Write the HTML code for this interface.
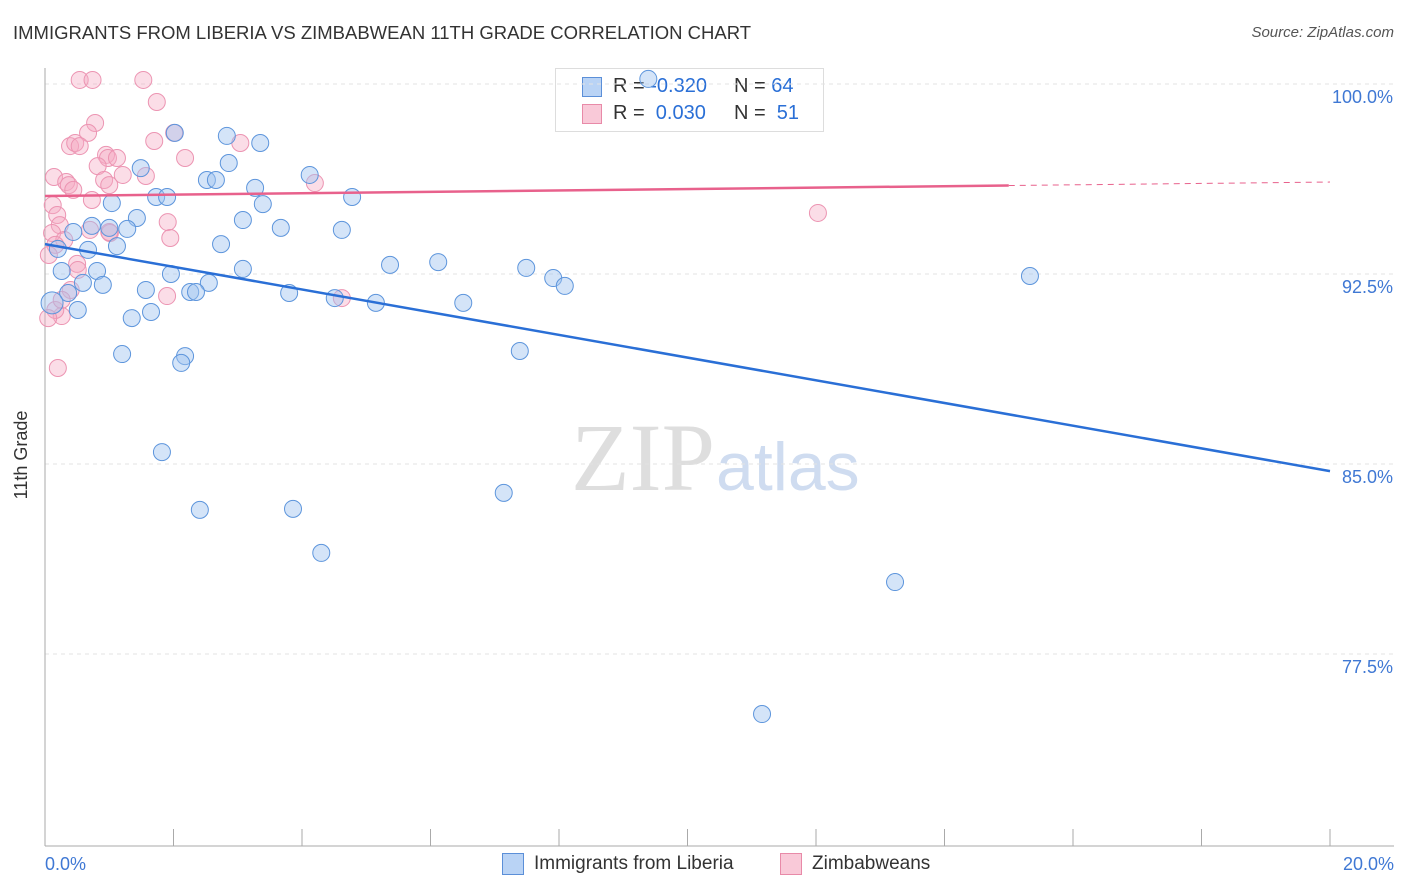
<!DOCTYPE html>
<html><head><meta charset="utf-8">
<style>
body{margin:0;background:#fff;font-family:"Liberation Sans",sans-serif;}
#wrap{position:relative;width:1406px;height:892px;overflow:hidden;}
.t{position:absolute;white-space:nowrap;}
</style></head>
<body>
<div id="wrap">
<div class="t" style="left:13px;top:22px;font-size:18.5px;color:#333;">IMMIGRANTS FROM LIBERIA VS ZIMBABWEAN 11TH GRADE CORRELATION CHART</div>
<div class="t" style="right:12px;top:24px;font-size:15px;color:#555;font-style:italic;">Source: ZipAtlas.com</div>
<div style="position:absolute;z-index:0;left:555px;top:68px;width:267px;height:62px;border:1px solid #ddd;background:#fff;font-size:20px;">
<div style="position:absolute;left:26px;top:8px;width:18px;height:18px;background:#b9d3f5;border:1px solid #5b8fd8;"></div>
<div class="t" style="left:57px;top:6px;color:#333">R = <span style="color:#2a6fd6">-0.320</span></div>
<div class="t" style="left:178px;top:6px;color:#333">N = <span style="color:#2a6fd6">64</span></div>
<div style="position:absolute;left:26px;top:35px;width:18px;height:18px;background:#f9c9d8;border:1px solid #e88aa8;"></div>
<div class="t" style="left:57px;top:33px;color:#333">R = &nbsp;<span style="color:#2a6fd6">0.030</span></div>
<div class="t" style="left:178px;top:33px;color:#333">N = &nbsp;<span style="color:#2a6fd6">51</span></div>
</div>
<svg id="svg" width="1406" height="892" style="position:absolute;left:0;top:0;z-index:1">
<text x="715" y="490" font-size="96" font-family="Liberation Serif,serif" fill="#dedede" text-anchor="end">ZIP</text>
<text x="716" y="490" font-size="68" fill="#cfdcf0">atlas</text>
<g id="grid"></g><g id="pts"></g><g id="lines"></g>
<text x="27" y="455" font-size="18" fill="#333" transform="rotate(-90 27 455)" text-anchor="middle">11th Grade</text>
</svg>
<div>
<div style="position:absolute;left:502px;top:853px;width:20px;height:20px;background:#b9d3f5;border:1px solid #5b8fd8;"></div>
<div class="t" style="left:534px;top:853px;font-size:19px;color:#333">Immigrants from Liberia</div>
<div style="position:absolute;left:780px;top:853px;width:20px;height:20px;background:#f9c9d8;border:1px solid #e88aa8;"></div>
<div class="t" style="left:812px;top:853px;font-size:19px;color:#333">Zimbabweans</div>
</div>
</div>
<script>
const yTicks=[100,92.5,85,77.5];
const yTickLabels=["100.0%","92.5%","85.0%","77.5%"];
const xTickLabels=["0.0%","20.0%"];
const blueX=[9.39,2.02,2.83,3.35,1.49,2.86,2.52,2.66,4.12,3.27,1.73,1.90,4.78,1.04,3.39,1.43,3.08,0.73,1.00,1.28,3.67,4.62,0.44,2.74,1.12,0.67,0.2,5.37,6.12,7.49,0.26,0.81,3.08,1.96,7.91,15.33,0.59,0.9,2.55,1.57,0.36,2.26,2.35,3.8,8.09,4.51,5.15,6.51,0.11,0.51,1.65,1.35,1.2,2.18,2.12,7.39,1.82,7.14,2.41,3.86,4.3,13.23,11.16];
const blueY=[100.2,98.07,97.95,97.67,96.68,96.88,96.21,96.21,96.41,95.9,95.54,95.54,95.54,95.3,95.26,94.71,94.63,94.4,94.32,94.28,94.32,94.24,94.16,93.68,93.6,93.45,93.49,92.86,92.97,92.74,92.62,92.62,92.7,92.5,92.34,92.42,92.15,92.07,92.15,91.87,91.75,91.79,91.79,91.75,92.03,91.55,91.36,91.36,91.36,91.08,91.0,90.76,89.34,89.26,88.99,89.46,85.47,83.86,83.19,83.23,81.49,80.34,75.13];
const pinkX=[0.54,0.74,1.53,1.74,0.78,0.67,2.01,1.7,3.04,0.39,0.47,0.54,0.95,0.98,1.12,2.18,0.82,1.57,0.14,0.33,0.37,0.44,0.92,1.0,1.21,4.2,0.73,0.12,0.19,0.23,0.11,1.01,1.91,1.95,0.3,12.03,0.16,0.06,0.5,0.51,0.4,1.9,4.62,0.26,0.16,0.05,0.2,0.7,1.0,0.26];
const pinkY=[100.16,100.16,100.16,99.29,98.46,98.07,98.07,97.75,97.67,97.55,97.67,97.55,97.2,97.08,97.08,97.08,96.76,96.37,96.33,96.13,96.01,95.82,96.21,96.01,96.41,96.09,95.42,95.22,94.83,94.43,94.12,94.12,94.55,93.92,93.84,94.91,93.65,93.25,92.9,92.66,91.87,91.63,91.55,90.84,91.08,90.76,88.79,94.24,94.16,91.48];
const blueTrend=[93.68,84.72];
const pinkTrend=[95.58,96.13];
const NS="http://www.w3.org/2000/svg";
const X=v=>45+v/20*1285, Y=v=>84+(100-v)/7.5*190;
function mk(p,tag,a){const e=document.createElementNS(NS,tag);for(const k in a)e.setAttribute(k,a[k]);p.appendChild(e);return e;}
const grid=document.getElementById('grid'),pts=document.getElementById('pts'),lines=document.getElementById('lines'),svg=document.getElementById('svg');
yTicks.forEach((t,i)=>{
 const l=mk(grid,'line',{x1:45,x2:1394,y1:Y(t),y2:Y(t),stroke:'#e3e3e3','stroke-dasharray':'4,4'});
 
 
 const tx=mk(svg,'text',{x:1393,y:Y(t)+19,'font-size':18,fill:'#3f78d4','text-anchor':'end'});
 tx.textContent=yTickLabels[i];
 
 
});
const ax=mk(grid,'line',{x1:45,x2:45,y1:68,y2:846,stroke:'#aaa'});


const bx=mk(grid,'line',{x1:45,x2:1394,y1:846,y2:846,stroke:'#aaa'});


for(let i=0;i<=10;i++){const t=mk(grid,'line',{x1:X(i*2),x2:X(i*2),y1:829,y2:846,stroke:'#aaa'});
 
 }
[[0,'start',45],[1,'end',1394]].forEach(([i,a,x])=>{const t=mk(svg,'text',{x:x,y:870,'font-size':18,fill:'#3f78d4','text-anchor':a});t.textContent=xTickLabels[i];
 
 });
pinkX.forEach((v,i)=>{const c=mk(pts,'circle',{cx:X(v),cy:Y(pinkY[i]),r:8.5,fill:'rgba(246,170,195,0.4)',stroke:'#ec94b2','stroke-width':1});
 
 });
blueX.forEach((v,i)=>{const c=mk(pts,'circle',{cx:X(v),cy:Y(blueY[i]),r:(i==48?11:8.5),fill:'rgba(160,196,240,0.45)',stroke:'#5d95dc','stroke-width':1});
 
 });
const bl=mk(lines,'line',{x1:X(0),y1:Y(blueTrend[0]),x2:X(20),y2:Y(blueTrend[1]),stroke:'#2a6fd6','stroke-width':2.5});


const pm=pinkTrend[0]+(pinkTrend[1]-pinkTrend[0])*0.75;
const pl=mk(lines,'line',{x1:X(0),y1:Y(pinkTrend[0]),x2:X(15),y2:Y(pm),stroke:'#e8618c','stroke-width':2.5});


const pd=mk(lines,'line',{x1:X(15),y1:Y(pm),x2:X(20),y2:Y(pinkTrend[1]),stroke:'#e8618c','stroke-width':1,'stroke-dasharray':'6,5'});


</script>
</body></html>
